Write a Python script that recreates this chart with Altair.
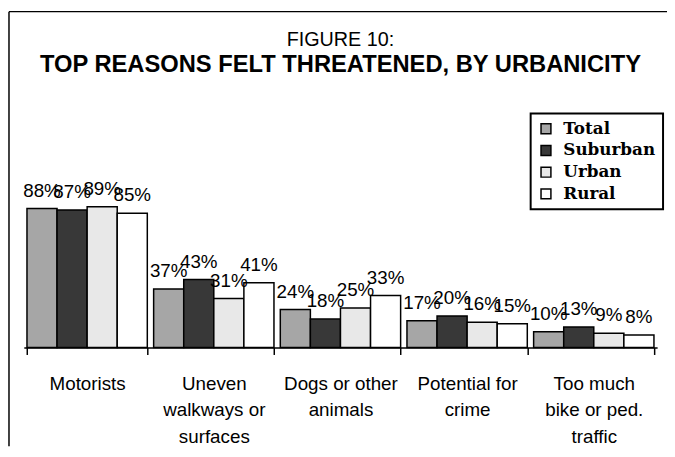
import altair as alt
import pandas as pd

categories = ["Motorists", "Uneven|walkways or|surfaces", "Dogs or other|animals",
              "Potential for|crime", "Too much|bike or ped.|traffic"]
groups = ["Total", "Suburban", "Urban", "Rural"]
total = [88, 37, 24, 17, 10]
suburban = [87, 43, 18, 20, 13]
urban = [89, 31, 25, 16, 9]
rural = [85, 41, 33, 15, 8]
colors = ["#a6a6a6", "#383838", "#e8e8e8", "#ffffff"]

series = {"Total": total, "Suburban": suburban, "Urban": urban, "Rural": rural}
rows = []
for g in groups:
    for c, v in zip(categories, series[g]):
        rows.append({"cat": c, "grp": g, "val": v, "lab": f"{v}%"})
df = pd.DataFrame(rows)

x = alt.X("cat:N", sort=categories,
          scale=alt.Scale(paddingInner=0.05, paddingOuter=0.025),
          axis=alt.Axis(title=None, labelAngle=0, labelExpr="split(datum.label,'|')",
                        tickBand="extent", domainColor="black", domainWidth=1.5,
                        tickColor="black", tickWidth=1.5, tickSize=7,
                        labelFont="Liberation Sans", labelFontSize=19, labelColor="black",
                        labelLineHeight=27, labelPadding=20, labelBaseline="top"))
xo = alt.XOffset("grp:N", sort=groups, scale=alt.Scale(paddingInner=0))
y = alt.Y("val:Q", scale=alt.Scale(domain=[0, 100], nice=False), axis=None)

bars = alt.Chart(df).mark_bar(stroke="black", strokeWidth=1.5).encode(
    x=x, xOffset=xo, y=y,
    fill=alt.Fill("grp:N", sort=groups,
                  scale=alt.Scale(domain=groups, range=colors),
                  legend=alt.Legend(title=None, orient="none", legendX=513, legendY=-77,
                                    strokeColor="black", padding=7,
                                    fillColor="white",
                                    labelFont="DejaVu Serif", labelFontWeight="bold",
                                    labelFontSize=17, labelColor="black",
                                    symbolType="square", symbolSize=100,
                                    symbolStrokeColor="black", symbolStrokeWidth=1.5,
                                    rowPadding=4, labelOffset=9)),
)

texts = alt.Chart(df).mark_text(baseline="alphabetic", dy=-12, font="Liberation Sans",
                                fontSize=19, color="black").encode(
    x=x, xOffset=xo, y=y, text="lab:N")

frame_df = pd.DataFrame({"k": [0]})
left_line = alt.Chart(frame_df).mark_rule(color="black", strokeWidth=1.5).encode(
    x=alt.value(-15), y=alt.value(-180), y2=alt.value(260))
top_line = alt.Chart(frame_df).mark_rule(color="black", strokeWidth=1.5).encode(
    x=alt.value(-15), x2=alt.value(680), y=alt.value(-180))

chart = alt.layer(bars, texts, left_line, top_line).properties(
    width=641, height=160,
    padding={"left": 16, "top": 181, "right": 10, "bottom": 100},
    autosize=alt.AutoSizeParams(type="none"),
    title=alt.Title(text="FIGURE 10:", subtitle="TOP REASONS FELT THREATENED, BY URBANICITY",
                    font="Liberation Sans", fontSize=20, fontWeight="normal", color="black",
                    subtitleFont="Liberation Sans", subtitleFontSize=24,
                    subtitleFontWeight="bold", subtitleColor="black",
                    anchor="middle", frame="group", offset=-67, subtitlePadding=3),
).configure_view(stroke=None).configure_legend(strokeWidth=2)

chart.save("out.html", embed_options={"renderer": "svg", "actions": False})
